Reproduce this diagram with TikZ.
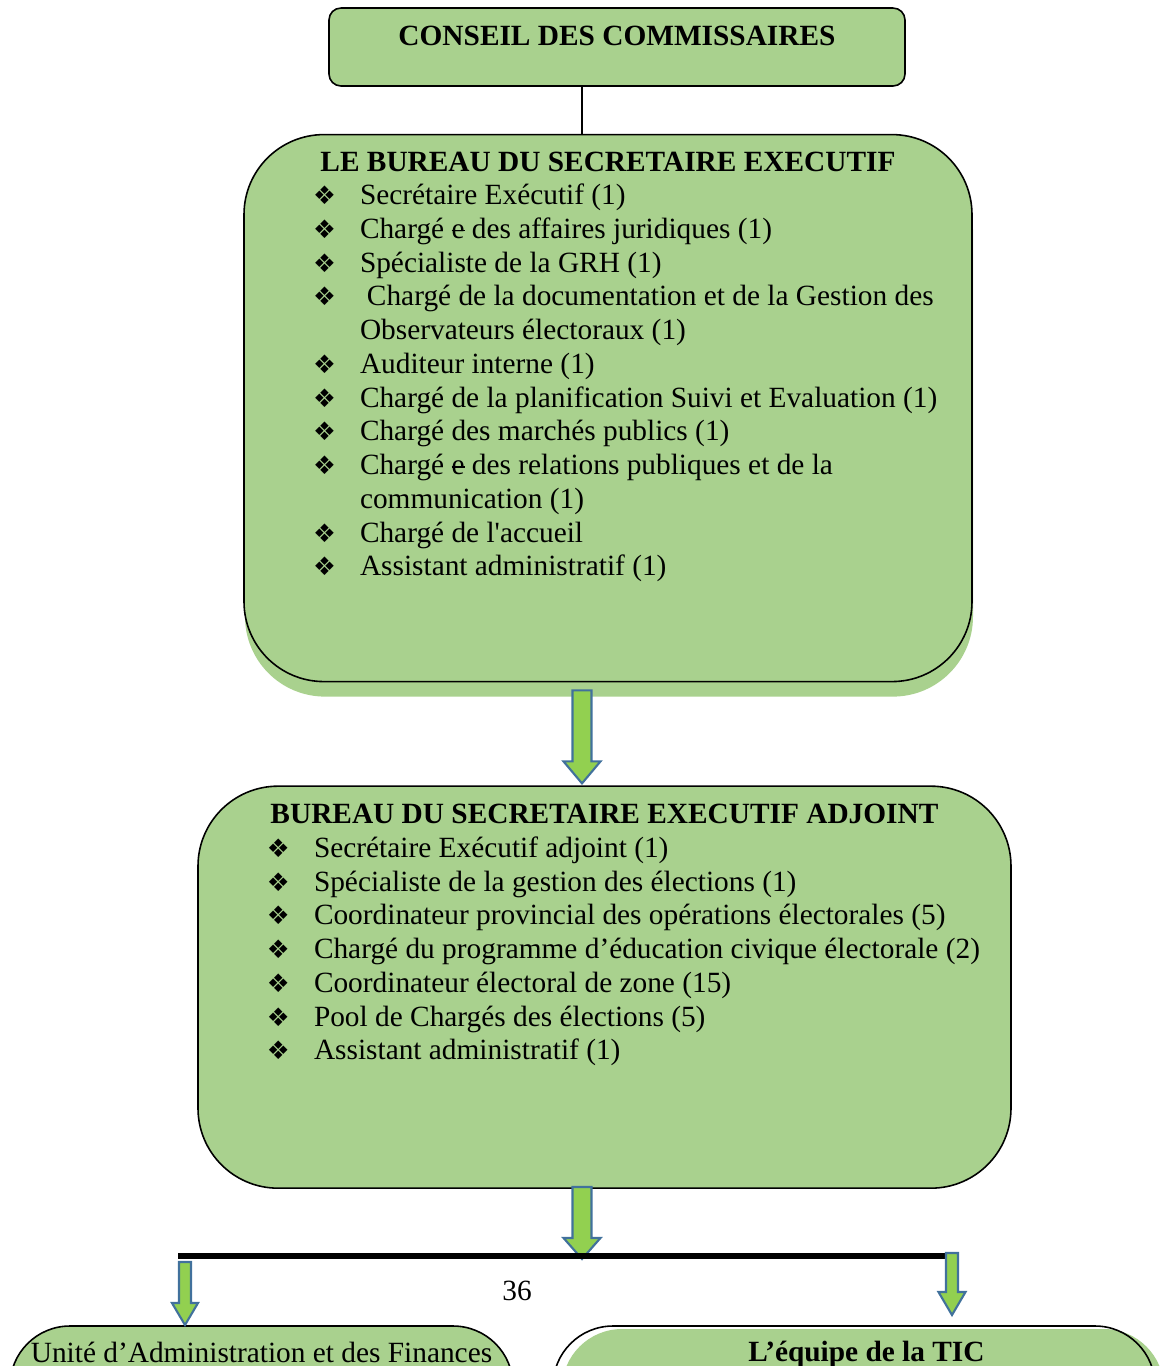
\documentclass[tikz,border=0pt]{standalone}
\usepackage{fontspec}
\setmainfont{Liberation Serif}
\newfontfamily\dejavu{DejaVu Sans}
\usetikzlibrary{positioning, calc, shadows}
\definecolor{vertboite}{RGB}{169,209,142}
\definecolor{vertfleche}{RGB}{146,208,80}
\definecolor{bleufleche}{RGB}{65,113,156}

\newcommand{\puce}[1]{\par\noindent\hangindent=2.32cm\hangafter=1
  \hspace*{1.38cm}\makebox[0.94cm][l]{\dejavu\fontsize{14.5}{14.5}\selectfont ❖}#1}
\newcommand{\raye}[1]{\setbox0\hbox{#1}\rlap{\rule[0.24em]{\wd0}{0.06em}}\box0\relax}

\begin{document}
\begin{tikzpicture}[
    every node/.style={font=\fontsize{16.7}{19.2}\selectfont},
    boite/.style={rectangle, draw=black, line width=0.9pt, fill=vertboite, inner sep=0pt},
    grande/.style={boite, rounded corners=1.6cm},
    ombre/.style={general shadow={fill=vertboite, shadow xshift=0.02cm, shadow yshift=-0.3cm}},
    fleche/.style={draw=bleufleche, line width=1.2pt, fill=vertfleche, line join=miter},
    barre/.style={line width=3.4pt, black},
    pics/flechebas/.style n args={4}{code={
        \path[fleche] (-#1,0) -- (#1,0) -- (#1,-#4+#3) -- (#2,-#4+#3) -- (0,-#4)
            -- (-#2,-#4+#3) -- (-#1,-#4+#3) -- cycle;}}
]
\useasboundingbox (0,0) rectangle (23.44,-27.32);
\clip (0,0) rectangle (23.44,-27.32);

\coordinate (axe) at (11.64,0);

\node (conseil) [boite, rounded corners=0.24cm] at (12.34,-0.94)
    {\begin{minipage}[t][1.56cm][t]{11.52cm}\vspace*{0.36cm}\centering
     \bfseries CONSEIL DES COMMISSAIRES\end{minipage}};

\node (bse) [grande, ombre, below=0.94cm of conseil, xshift=-0.18cm]
    {\begin{minipage}[t][10.94cm][t]{14.56cm}\vspace*{0.34cm}\raggedright
     \centerline{\bfseries LE BUREAU DU SECRETAIRE EXECUTIF}
     \puce{Secrétaire Exécutif (1)}
     \puce{Chargé \raye{e} des affaires juridiques (1)}
     \puce{Spécialiste de la GRH (1)}
     \puce{\hspace{0.14cm}Chargé de la documentation et de la Gestion des\newline
           Observateurs électoraux (1)}
     \puce{Auditeur interne (1)}
     \puce{Chargé de la planification Suivi et Evaluation (1)}
     \puce{Chargé des marchés publics (1)}
     \puce{Chargé \raye{e} des relations publiques et de la\newline communication (1)}
     \puce{Chargé de l\textquotesingle accueil}
     \puce{Assistant administratif (1)}
     \end{minipage}};

\node (bsea) [grande, below=2.06cm of bse, xshift=-0.07cm]
    {\begin{minipage}[t][8.04cm][t]{16.26cm}\vspace*{0.36cm}\raggedright
     \centerline{\bfseries BUREAU DU SECRETAIRE EXECUTIF ADJOINT}
     \puce{Secrétaire Exécutif adjoint (1)}
     \puce{Spécialiste de la gestion des élections (1)}
     \puce{Coordinateur provincial des opérations électorales (5)}
     \puce{Chargé du programme d’éducation civique électorale (2)}
     \puce{Coordinateur électoral de zone (15)}
     \puce{Pool de Chargés des élections (5)}
     \puce{Assistant administratif (1)}
     \end{minipage}};

\node (uaf) [boite, rounded corners=1.2cm] at (5.23,-28.52)
    {\begin{minipage}[t][4cm][t]{10.06cm}\vspace*{0.32cm}\centering
     Unité d’Administration et des Finances\end{minipage}};

\node (tic) [boite, fill=none, rounded corners=1.2cm,
    general shadow={fill=vertboite, shadow xshift=0.18cm, shadow yshift=-0.06cm}] at (17.08,-28.52)
    {\begin{minipage}[t][4cm][t]{12.04cm}\vspace*{0.3cm}\centering
     \hspace*{0.5cm}\bfseries L’équipe de la TIC\end{minipage}};

\node (page) at (10.34,-25.82) {36};

\coordinate (barg) at (3.56,-25.12);
\coordinate (bard) at (18.9,-25.12);

\draw[line width=0.9pt] (conseil.south -| axe) -- (bse.north -| axe);
\pic at ($(axe |- bse.south)+(0,-0.16)$) {flechebas={0.19}{0.37}{0.44}{1.86}};
\pic at ($(axe |- bsea.south)+(0,0.04)$) {flechebas={0.19}{0.37}{0.42}{1.44}};
\draw[barre] (barg) -- (bard);
\pic at (3.7,-25.24) {flechebas={0.12}{0.26}{0.44}{1.26}};
\pic at (19.04,-25.06) {flechebas={0.12}{0.27}{0.46}{1.24}};

\end{tikzpicture}
\end{document}
